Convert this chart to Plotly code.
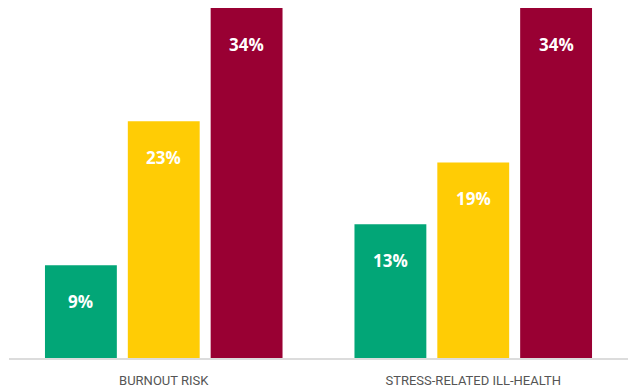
import plotly.graph_objects as go

categories = ["BURNOUT RISK", "STRESS-RELATED ILL-HEALTH"]
series_names = ["Low", "Medium", "High"]
series_values = [
    [9, 13],
    [23, 19],
    [34, 34],
]
series_colors = ["#02A677", "#FFCC05", "#990033"]

fig = go.Figure()
for name, vals, col in zip(series_names, series_values, series_colors):
    fig.add_trace(go.Bar(
        x=categories,
        y=vals,
        name=name,
        marker=dict(color=col, line=dict(width=0)),
        text=[f"{v}%" for v in vals],
        textposition="none",
        hoverinfo="skip",
    ))

# value labels placed a little below each bar's top
n = len(series_values)
slot = (1 - 0.197) / n
for i, vals in enumerate(series_values):
    for j, v in enumerate(vals):
        xc = j - (1 - 0.197) / 2 + slot * (i + 0.5)
        fig.add_annotation(
            x=xc, y=v, xref="x", yref="y",
            text=f"<b>{v}%</b>", showarrow=False,
            yshift=-36,
            font=dict(family="Open Sans", size=17, color="white"),
        )

fig.update_layout(
    width=628, height=388,
    margin=dict(l=9, r=0, t=0, b=30),
    paper_bgcolor="white", plot_bgcolor="white",
    barmode="group", bargap=0.197, bargroupgap=0.1325,
    showlegend=False,
    xaxis=dict(
        type="category", range=[-0.5, 1.5],
        showline=True, linecolor="#dcdcdc", linewidth=2,
        ticks="", showgrid=False, ticklabelstandoff=9,
        tickfont=dict(family="Roboto", size=13, color="#555555"),
    ),
    yaxis=dict(range=[0, 34.78], visible=False, showgrid=False, zeroline=False),
)

fig.write_html("out.html")
